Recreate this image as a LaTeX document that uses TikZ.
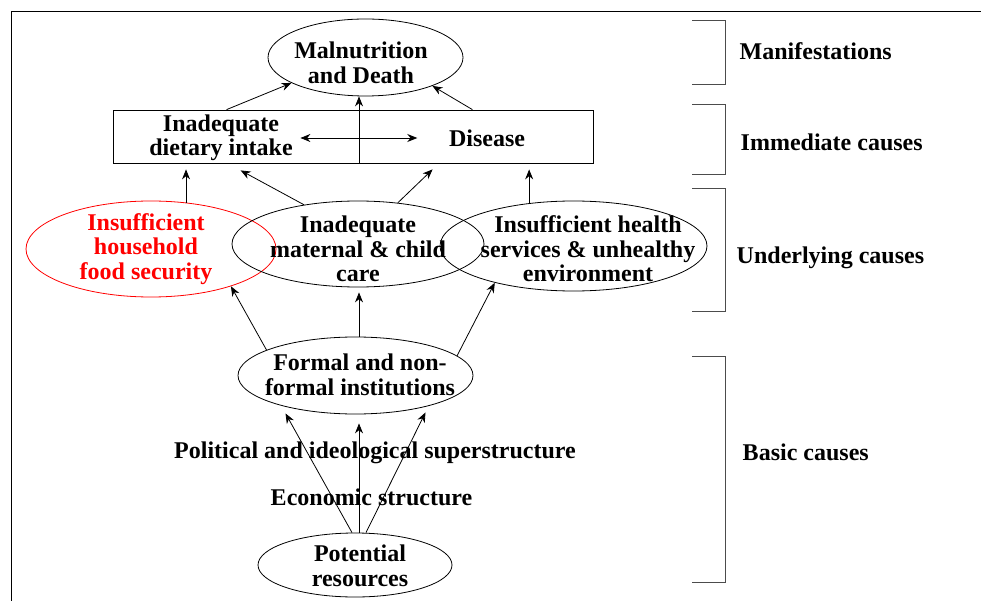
\documentclass[tikz,border=0pt]{standalone}
\usepackage{fontspec}
\setmainfont{Liberation Serif}
\usetikzlibrary{shapes,arrows.meta,calc,positioning}

\begin{document}
\begin{tikzpicture}[x=1pt, y=-1pt, line width=0.8pt,
      >={Stealth[length=10pt,width=8pt]},
      every node/.append style={font=\fontsize{24}{24.5}\selectfont\bfseries, align=center},
      oval/.style={draw, ellipse, inner sep=0pt},
      arr/.style={->},
      brk/.style={draw=black!70, line width=1pt}]
    \useasboundingbox (0,0) rectangle (981,601);
    \draw (11,601) -- (11,11) -- (981,11);

    % manifestations
    \node[oval, minimum width=195pt, minimum height=77pt] (mal) at (365.5,57.5) {};
    \node (maltxt) at (361,63) {Malnutrition\\and Death};

    % immediate causes
    \node[draw, inner sep=0pt, minimum width=480pt, minimum height=53pt] (box) at (353,136.5) {};
    \node (diet) at (221,138) {Inadequate\\dietary intake};
    \node (dis) at (487,138) {Disease};
    \coordinate (split) at (359,163);

    % underlying causes
    \node[oval, red, minimum width=250pt, minimum height=96pt] (food) at (151,249) {};
    \node[red] (foodtxt) at (146,249) {Insufficient\\household\\food security};
    \node[oval, minimum width=252pt, minimum height=86pt] (care) at (358,244) {};
    \node (caretxt) at (358,249) {Inadequate\\maternal \& child\\care};
    \node[oval, minimum width=267pt, minimum height=90pt] (health) at (573.5,246) {};
    \node (healthtxt) at (588,249) {Insufficient health\\services \& unhealthy\\environment};

    % basic causes
    \node[oval, minimum width=235pt, minimum height=77pt] (inst) at (355.5,375.5) {};
    \node (insttxt) at (360,375) {Formal and non-\\formal institutions};
    \node (pol) at (375,453) {Political and ideological superstructure};
    \node (eco) at (371.5,497) {Economic structure};
    \node[oval, minimum width=194pt, minimum height=64pt] (pot) at (355,565) {};
    \node (pottxt) at (360,566) {Potential\\resources};

    % levels
    \foreach \ya/\yb in {21/85,105/175,189/311,356/582}
      \draw[brk] (692,\ya) -| (725,\yb) -- (692,\yb);
    \node[anchor=west] (manif) at (736,51) {Manifestations};
    \node[anchor=west] (immed) at (737,142) {Immediate causes};
    \node[anchor=west] (under) at (733,258) {Underlying causes};
    \node[anchor=west] (basic) at (739,452) {Basic causes};

    % arrows
    \draw[arr] ($(box.north west)+(114,0)$) -- (mal.199);
    \draw[arr] ($(box.north east)+(-121,0)$) -- (mal.337);
    \draw[arr] (split) -- (split |- mal.south);
    \draw[<->] ([xshift=4pt]diet.east) -- ([xshift=-28pt]dis.west);

    \draw[arr, shorten >=6pt] (food.53) -- (food.53 |- box.south);
    \draw[arr] (care.144) -- ($(box.south west)+(128,7)$);
    \draw[arr] (care.46) -- ($(box.south west)+(320,6)$);
    \draw[arr, shorten >=6pt] (health.136) -- (health.136 |- box.south);

    \draw[arr] (inst.164) -- (food.335);
    \draw[arr] ([xshift=3.5pt]inst.north) -- ([xshift=1pt,yshift=-5pt]care.south);
    \draw[arr] (inst.11) -- (health.205);

    \draw[arr] ([xshift=-3pt]pot.north) -- ($(inst.south)+(-70,-1)$);
    \draw[arr] ([xshift=4pt]pot.north) -- ($(inst.south)+(3.5,9)$);
    \draw[arr] ([xshift=11pt]pot.north) -- ($(inst.south)+(70,-2)$);
  \end{tikzpicture}
\end{document}
